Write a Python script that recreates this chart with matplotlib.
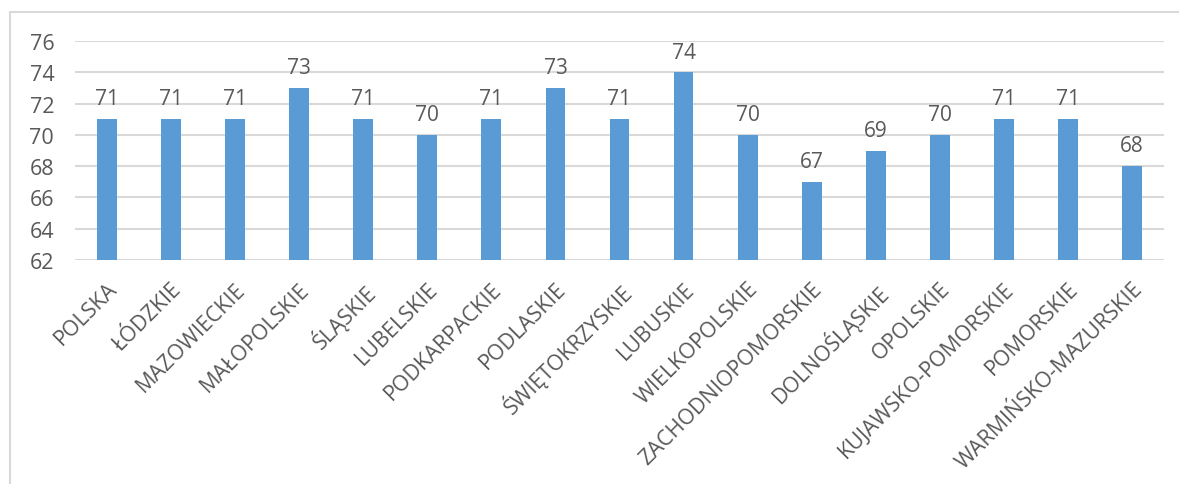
import matplotlib
matplotlib.use("Agg")
import matplotlib.pyplot as plt
from matplotlib.patches import Rectangle

# data
regions = ["POLSKA", "ŁÓDZKIE", "MAZOWIECKIE", "MAŁOPOLSKIE", "ŚLĄSKIE",
           "LUBELSKIE", "PODKARPACKIE", "PODLASKIE", "ŚWIĘTOKRZYSKIE",
           "LUBUSKIE", "WIELKOPOLSKIE", "ZACHODNIOPOMORSKIE", "DOLNOŚLĄSKIE",
           "OPOLSKIE", "KUJAWSKO-POMORSKIE", "POMORSKIE", "WARMIŃSKO-MAZURSKIE"]
values = [71, 71, 71, 73, 71, 70, 71, 73, 71, 74, 70, 67, 69, 70, 71, 71, 68]
yticks = [62, 64, 66, 68, 70, 72, 74, 76]

plt.rcParams['font.family'] = ['Open Sans', 'DejaVu Sans']
txt = "#595959"

fig = plt.figure(figsize=(11.79, 4.85), dpi=100)
# light frame around the chart (runs off the right and bottom edges)
fig.patches.append(Rectangle((10 / 1179, -0.05), 1.1, 1.05 - 13 / 485,
                             transform=fig.transFigure, fill=False,
                             edgecolor="#d9d9d9", linewidth=1.5))

ax = fig.add_axes([75 / 1179, 1 - 261 / 485, 1089 / 1179, (261 - 42) / 485])
x = range(len(regions))
ax.bar(x, [v - 62 for v in values], bottom=62, width=0.31,
       color="#5b9bd5", zorder=3)
for xi, v in zip(x, values):
    ax.annotate(str(v), (xi, v), xytext=(0, 7), textcoords="offset points",
                ha="center", va="bottom", fontsize=15, color=txt)

ax.set_ylim(62, 76)
ax.set_xlim(-0.5, len(regions) - 0.5)
ax.set_yticks(yticks)
ax.grid(axis="y", color="#d9d9d9", linewidth=1.5, zorder=0)
for s in ax.spines.values():
    s.set_visible(False)
ax.tick_params(length=0)
ax.tick_params(axis="y", labelsize=15.5, labelcolor=txt, pad=15)
ax.set_xticks(list(x))
ax.set_xticklabels(regions, rotation=45, ha="right", rotation_mode="anchor",
                   fontsize=15.5, color=txt)
ax.tick_params(axis="x", pad=13)

fig.savefig("out.png", dpi=100)
